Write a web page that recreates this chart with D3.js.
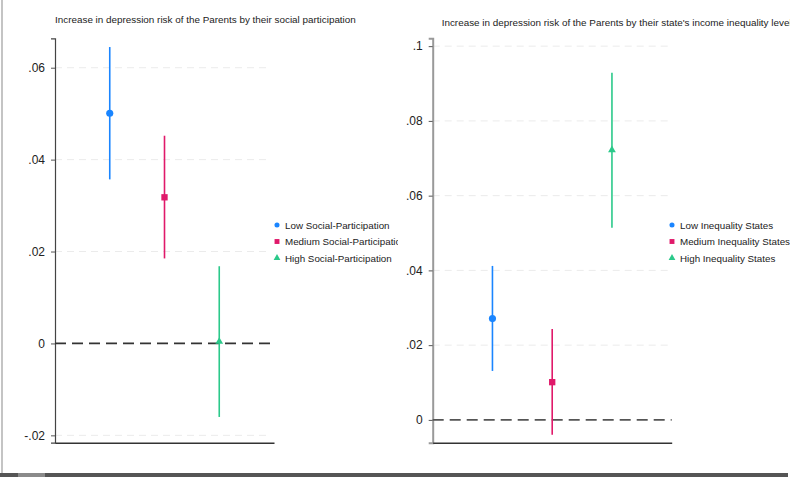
<!DOCTYPE html>
<html>
<head>
<meta charset="utf-8">
<script src="https://cdn.jsdelivr.net/npm/d3@7"></script>
<style>
  body { margin: 0; background: #fff; }
  svg { display: block; font-family: "Liberation Sans", Arial, sans-serif; }
</style>
</head>
<body>
<svg width="790" height="477"></svg>
<script>
// datos
var leftTitle = "Increase in depression risk of the Parents by their social participation";
var leftLabels = ["Low Social-Participation", "Medium Social-Participation", "High Social-Participation"];
var leftEst = [0.0501, 0.0318, 0.0004];
var leftLo = [0.0357, 0.0185, -0.0160];
var leftHi = [0.0645, 0.0452, 0.0168];
var leftTicks = [-0.02, 0, 0.02, 0.04, 0.06];

var rightTitle = "Increase in depression risk of the Parents by their state's income inequality level";
var rightLabels = ["Low Inequality States", "Medium Inequality States", "High Inequality States"];
var rightEst = [0.0271, 0.0101, 0.0722];
var rightLo = [0.0131, -0.0040, 0.0514];
var rightHi = [0.0412, 0.0243, 0.0929];
var rightTicks = [0, 0.02, 0.04, 0.06, 0.08, 0.1];

var colors = ["#1a85ff", "#e0196a", "#2bc98a"];
var shapes = [d3.symbolCircle, d3.symbolSquare, d3.symbolTriangle];

var svg = d3.select("svg");

// marco de la captura
svg.append("line").attr("x1", 2).attr("x2", 2).attr("y1", 0).attr("y2", 473)
   .attr("stroke", "#c4c4c4").attr("stroke-width", 2);
svg.append("rect").attr("x", 0).attr("y", 473).attr("width", 788).attr("height", 4).attr("fill", "#555");
svg.append("rect").attr("x", 18).attr("y", 473).attr("width", 27).attr("height", 4).attr("fill", "#8a8a8a");

function fmt(v) {
  if (Math.abs(v) < 1e-9) return "0";
  return String(+v.toFixed(2)).replace("0.", ".");
}

function panel(o) {
  var g = svg.append("g");
  if (o.clip) {
    svg.append("clipPath").attr("id", o.id).append("rect")
       .attr("x", 0).attr("y", 0).attr("width", o.clip).attr("height", 477);
    g.attr("clip-path", "url(#" + o.id + ")");
  }

  var x = d3.scaleLinear().domain([0, 4]).range([o.x0, o.x1]);
  var y = d3.scaleLinear().domain(o.dom).range([442.7, 38.3]);

  g.append("text").attr("x", o.titleX).attr("y", o.titleY)
   .style("font-size", "9.9px").attr("fill", "#222").text(o.title);

  // lineas de cuadricula
  g.selectAll(".grid").data(o.ticks.filter(function(t) { return t !== 0; }))
   .enter().append("line")
   .attr("x1", o.x0).attr("x2", o.x1 - 4)
   .attr("y1", function(d) { return y(d); }).attr("y2", function(d) { return y(d); })
   .attr("stroke", "#ebebeb").attr("stroke-width", 1).attr("stroke-dasharray", "7,5");

  // eje y
  var ax = g.append("g").attr("transform", "translate(" + o.x0 + ",0)")
            .call(d3.axisLeft(y).tickValues(o.ticks).tickFormat(fmt).tickSize(4).tickPadding(6));
  ax.attr("font-family", null).attr("font-size", null);
  ax.select(".domain").attr("stroke", o.axisColor).attr("stroke-width", o.axisWidth);
  ax.selectAll(".tick line").attr("stroke", "#555");
  ax.selectAll(".tick text").style("font-size", "12px").attr("fill", "#222");

  // eje x sin marcas
  var bx = g.append("g").attr("transform", "translate(0,442.7)")
            .call(d3.axisBottom(x).tickValues([]).tickSizeOuter(0));
  bx.select(".domain").attr("stroke", "#333").attr("stroke-width", 1.5);

  // linea de referencia en 0
  g.append("line").attr("x1", o.x0).attr("x2", o.x1)
   .attr("y1", y(0)).attr("y2", y(0))
   .attr("stroke", o.zeroColor).attr("stroke-width", 1.8).attr("stroke-dasharray", "11,6");

  var idx = [0, 1, 2];
  g.selectAll(".ci").data(idx).enter().append("line")
   .attr("x1", function(i) { return x(i + 1); }).attr("x2", function(i) { return x(i + 1); })
   .attr("y1", function(i) { return y(o.lo[i]); }).attr("y2", function(i) { return y(o.hi[i]); })
   .attr("stroke", function(i) { return colors[i]; }).attr("stroke-width", 1.6);

  g.selectAll(".pt").data(idx).enter().append("path")
   .attr("transform", function(i) { return "translate(" + x(i + 1) + "," + y(o.est[i]) + ")"; })
   .attr("d", function(i) { return d3.symbol().type(shapes[i]).size(i === 2 ? 26 : 40)(); })
   .attr("fill", function(i) { return colors[i]; });

  // leyenda
  var lg = g.selectAll(".lg").data(idx).enter().append("g")
            .attr("transform", function(i) { return "translate(" + o.legX + "," + (225 + i * 16.5) + ")"; });
  lg.append("path").attr("d", function(i) { return d3.symbol().type(shapes[i]).size(i === 1 ? 24 : 20)(); })
    .attr("fill", function(i) { return colors[i]; });
  lg.append("text").attr("x", 8).attr("y", 3.5).style("font-size", "9.8px").attr("fill", "#222")
    .text(function(i) { return o.labels[i]; });
}

panel({
  id: "clipL", clip: 398, x0: 55, x1: 274, dom: [-0.0216, 0.0664],
  title: leftTitle, titleX: 55, titleY: 22.5, ticks: leftTicks,
  est: leftEst, lo: leftLo, hi: leftHi, labels: leftLabels,
  axisColor: "#444", axisWidth: 1.2, zeroColor: "#333", legX: 277
});

panel({
  id: "clipR", clip: null, x0: 432.7, x1: 671.7, dom: [-0.0061, 0.1021],
  title: rightTitle, titleX: 441.7, titleY: 26, ticks: rightTicks,
  est: rightEst, lo: rightLo, hi: rightHi, labels: rightLabels,
  axisColor: "#999", axisWidth: 2, zeroColor: "#555", legX: 672
});
</script>
</body>
</html>
